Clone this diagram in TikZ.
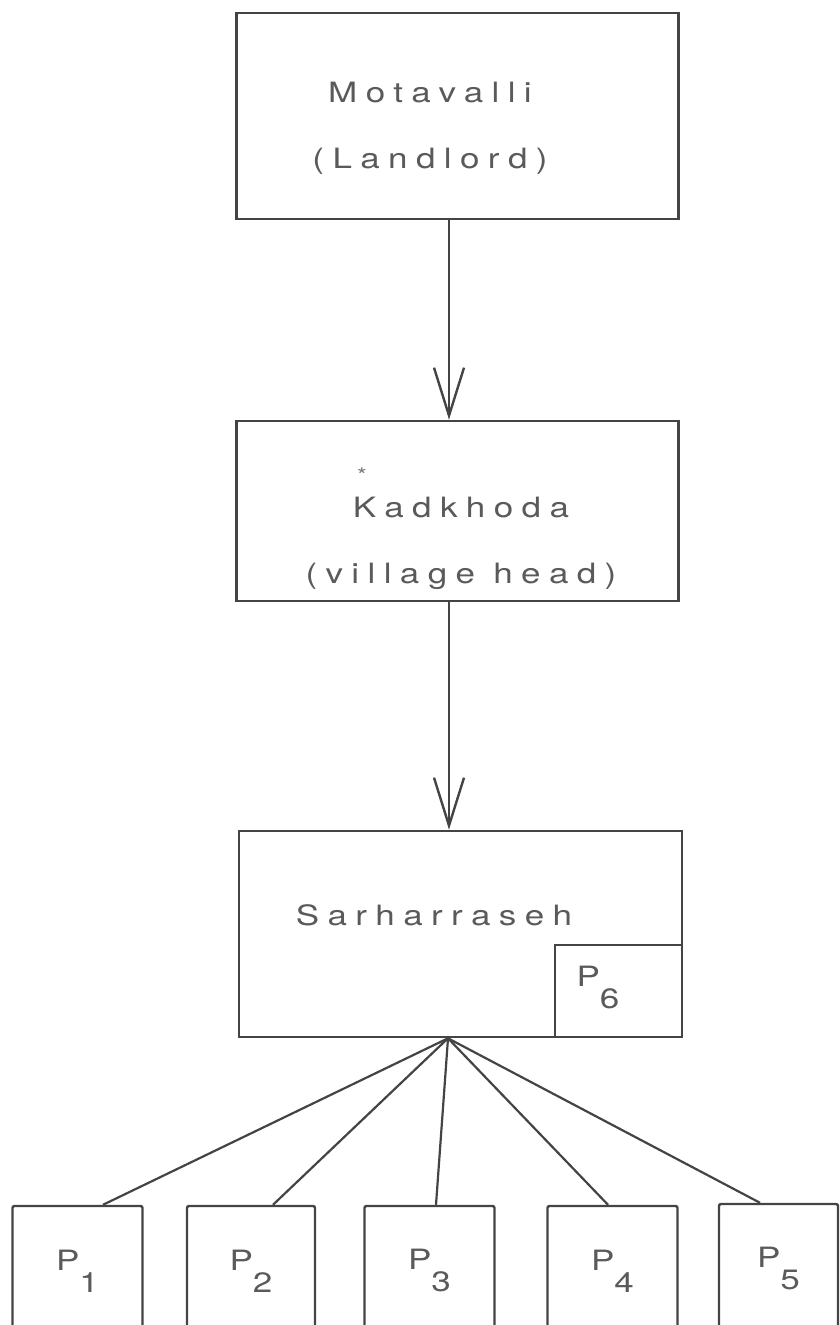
\documentclass[tikz,border=0pt]{standalone}
\usepackage{fontspec}
\setmainfont{TeX Gyre Heros}[LetterSpace=30, FakeStretch=1.25]
\usetikzlibrary{arrows.meta}
\definecolor{inkline}{HTML}{444444}
\definecolor{inktext}{HTML}{5A5A5A}

\begin{document}
\begin{tikzpicture}[x=1pt, y=1pt, >={Straight Barb[length=48pt,width=30pt]},
  box/.style={draw=inkline, line width=2.6pt, minimum width=442pt},
  pbox/.style={draw=inkline, line width=2.4pt, minimum width=130pt, minimum height=130pt,
    rounded corners=2pt, text=inktext, font=\fontsize{28}{34}\selectfont},
  word/.style={text=inktext, align=center, font=\fontsize{28}{66}\selectfont}]
\useasboundingbox (0,0) rectangle (840,1325);
\clip (0,0) rectangle (840,1325);
% the three levels
\node[box, minimum height=206pt] (land) at (457.5,1209) {};
\node[box, minimum height=180pt] (head) at (457.5,814) {};
\node[box, minimum height=206pt, minimum width=443pt] (sarh) at (460.5,391) {};
\node[draw=inkline, line width=2.6pt, minimum width=127pt, minimum height=92pt,
  anchor=south east] (p6) at (sarh.south east) {};
% texts
\node[word] (landtxt) at (430,1197) {Motavalli\\(Landlord)};
\node[word] (headtxt) at (461,781.5) {Kadkhoda\\(village head)};
\node[text=inktext!80, font=\fontsize{20}{20}\selectfont] (star) at (362,850) {*};
\node[word] (sarhtxt) at (434,410) {Sarharraseh};
\node[word] (p6txt) at (598,337.5) {P\raisebox{-22pt}{6}};
% arrows down
\draw[->, inkline, line width=2.4pt] ([xshift=-8.5pt]land.south) -- ([xshift=-8.5pt]head.north);
\draw[->, inkline, line width=2.4pt] ([xshift=-8.5pt]head.south) -- ([xshift=-11.5pt]sarh.north);
% the peasants
\node[pbox] (p1) at (77.5,54) {P\raisebox{-22pt}{1}};
\node[pbox, minimum width=128pt] (p2) at (251,54) {P\raisebox{-22pt}{2}};
\node[pbox] (p3) at (429.5,54) {P\raisebox{-22pt}{3}};
\node[pbox] (p4) at (612.5,54) {P\raisebox{-22pt}{4}};
\node[pbox, minimum width=119pt] (p5) at (778.5,56) {P\raisebox{-22pt}{5}};
\coordinate (hub) at ([xshift=-12.5pt]sarh.south);
\foreach \i/\dx in {1/25.5, 2/22, 3/6.5, 4/-4.5, 5/-18.5}
  \draw[inkline, line width=2.2pt] (hub) -- ([xshift=\dx pt]p\i.north);
\end{tikzpicture}
\end{document}
